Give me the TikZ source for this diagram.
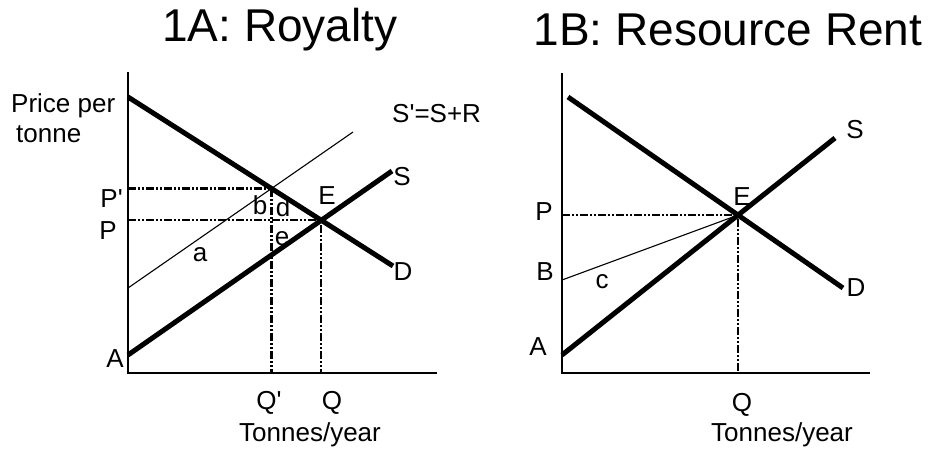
\documentclass[tikz,border=0pt]{standalone}
\usepackage{fontspec}
\setmainfont{Liberation Sans}
\usetikzlibrary{calc}

\tikzset{
  curve/.style={line width=5pt},
  axis/.style={line width=1.7pt},
  guide/.style={line width=2.2pt, dash pattern=on 8pt off 2pt on 2pt off 2pt on 2pt off 2pt},
  thinline/.style={line width=1.1pt},
  lbl/.style={inner sep=0pt, font=\fontsize{26}{30}\selectfont},
  ttl/.style={inner sep=0pt, font=\fontsize{46}{54}\selectfont}
}

\begin{document}
\begin{tikzpicture}[x=1pt,y=-1pt]
  \useasboundingbox (0,0) rectangle (931,450);
  % 1A: Royalty
  \node[ttl] (titleA) at (280,30) {1A: Royalty};
  \coordinate (oA) at (128,373);
  \coordinate (yA) at (128,72);
  \coordinate (xA) at (437,373);
  \coordinate (dA1) at (128,97);
  \coordinate (dA2) at (393,266);
  \coordinate (sA1) at (128,355);
  \coordinate (sA2) at (392,171);
  \coordinate (spA1) at (128,288);
  \coordinate (spA2) at (353,132);
  \coordinate (eA) at (intersection of dA1--dA2 and sA1--sA2);
  \coordinate (epA) at (intersection of dA1--dA2 and spA1--spA2);
  \draw[axis] (yA) -- (oA) -- (xA);
  \draw[guide] (epA -| oA) -- (epA) -- (epA |- oA);
  \draw[guide] (eA -| oA) -- (eA) -- (eA |- oA);
  \draw[thinline] (spA1) -- (spA2);
  \draw[curve] (dA1) -- (dA2);
  \draw[curve] (sA1) -- (sA2);
  \node[lbl,anchor=west,align=left] (priceA) at (11,118) {Price per\\\hspace{5pt}tonne};
  \node[lbl,anchor=east] (pprA) at (123,199) {P\textquotesingle};
  \node[lbl,anchor=east] (pA) at (117,231) {P};
  \node[lbl,anchor=east] (aA) at (124,359) {A};
  \node[lbl] (areaa) at (200,255) {a};
  \node[lbl] (areab) at (260,205) {b};
  \node[lbl] (aread) at (283,207) {d};
  \node[lbl] (areae) at (282,239) {e};
  \node[lbl] (eqA) at (327,196) {E};
  \node[lbl] (sLblA) at (402,177) {S};
  \node[lbl] (dLblA) at (403,272) {D};
  \node[lbl,anchor=west] (spLblA) at (392,114) {S\textquotesingle=S+R};
  \node[lbl] (qprA) at (269,403) {Q\textquotesingle};
  \node[lbl] (qA) at (332,403) {Q};
  \node[lbl] (unitA) at (310,435) {Tonnes/year};
  % 1B: Resource Rent
  \node[ttl] (titleB) at (728,30) {1B: Resource Rent};
  \coordinate (oB) at (562,373);
  \coordinate (yB) at (562,73);
  \coordinate (xB) at (870,373);
  \coordinate (dB1) at (568,97);
  \coordinate (dB2) at (843,288);
  \coordinate (sB1) at (562,355);
  \coordinate (sB2) at (835,138);
  \coordinate (bB) at (562,280);
  \coordinate (eB) at (intersection of dB1--dB2 and sB1--sB2);
  \draw[axis] (yB) -- (oB) -- (xB);
  \draw[guide] (eB -| oB) -- (eB) -- (eB |- oB);
  \draw[thinline] (bB) -- (eB);
  \draw[curve] (dB1) -- (dB2);
  \draw[curve] (sB1) -- (sB2);
  \node[lbl] (pB) at (544,212) {P};
  \node[lbl] (bLblB) at (545,272) {B};
  \node[lbl] (areac) at (602,282) {c};
  \node[lbl] (aB) at (538,347) {A};
  \node[lbl] (eqB) at (742,197) {E};
  \node[lbl] (sLblB) at (855,130) {S};
  \node[lbl] (dLblB) at (856,288) {D};
  \node[lbl] (qB) at (742,405) {Q};
  \node[lbl] (unitB) at (782,435) {Tonnes/year};
\end{tikzpicture}
\end{document}
